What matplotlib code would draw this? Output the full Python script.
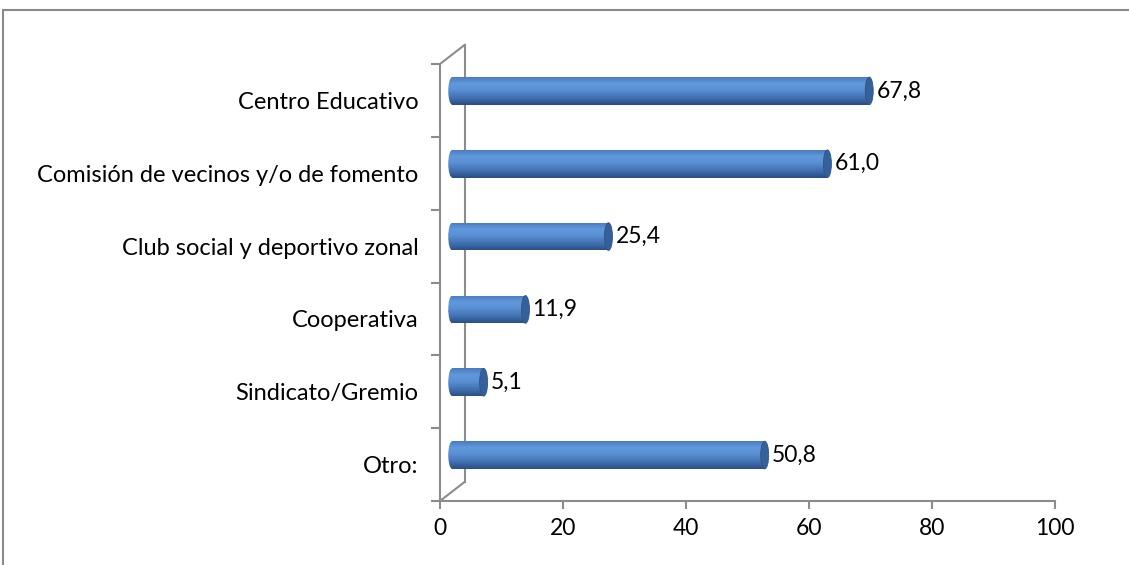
import matplotlib
matplotlib.use("Agg")
import matplotlib.pyplot as plt
import matplotlib.transforms as mtransforms
from matplotlib.lines import Line2D
from matplotlib.patches import Ellipse, Rectangle
from matplotlib.colors import LinearSegmentedColormap
import numpy as np


categories = ["Otro:", "Sindicato/Gremio", "Cooperativa",
              "Club social y deportivo zonal",
              "Comisión de vecinos y/o de fomento", "Centro Educativo"]
values = [50.8, 5.1, 11.9, 25.4, 61.0, 67.8]
labels = ["50,8", "5,1", "11,9", "25,4", "61,0", "67,8"]
xticks = [0, 20, 40, 60, 80, 100]

plt.rcParams['font.family'] = ['Lato', 'DejaVu Sans']

AXIS_COLOR = "#8c8c8c"
DEPTH_X, DEPTH_Y = 0.245, 0.19   # inches, 3d depth of the chart wall
BAR_H = 0.38
CAP_W = 1.3                       # width of the end ellipse, data units
N_STRIPES = 40

bar_cmap = LinearSegmentedColormap.from_list(
    "cyl", [(0.0, "#4a7cc0"), (0.22, "#6198dc"), (0.45, "#5a90d4"),
            (0.75, "#4170b0"), (1.0, "#2b4f86")])


def main():
    fig = plt.figure(figsize=(11.29, 5.65), dpi=100)
    fig.patches.append(Rectangle((3 / 1129, -0.05), 1.5, 1 - 10 / 565 + 0.05,
                                 transform=fig.transFigure, fill=False,
                                 edgecolor="#8a8a8a", linewidth=1.5))

    ax = fig.add_axes([440 / 1129, 1 - 501 / 565, 615 / 1129, 437 / 565])
    y0, y1 = -0.5, len(categories) - 0.5
    ax.set_xlim(0, 100)
    ax.set_ylim(y0, y1)
    ax.patch.set_visible(False)

    for side in ["top", "right"]:
        ax.spines[side].set_visible(False)
    for side in ["left", "bottom"]:
        ax.spines[side].set_color(AXIS_COLOR)
        ax.spines[side].set_linewidth(1.5)

    half = mtransforms.ScaledTranslation(DEPTH_X / 2, DEPTH_Y / 2, fig.dpi_scale_trans)
    full = mtransforms.ScaledTranslation(DEPTH_X, DEPTH_Y, fig.dpi_scale_trans)

    # back wall of the 3d frame, drawn on the figure below the axes so bars hide it
    fig.add_artist(Line2D([0, 0], [y0, y1], color=AXIS_COLOR, lw=1.5,
                          transform=ax.transData + full, zorder=-1))
    fig.canvas.draw()
    for yy in (y0, y1):
        p0 = ax.transData.transform((0, yy))
        p1 = (ax.transData + full).transform((0, yy))
        fig.add_artist(Line2D([p0[0], p1[0]], [p0[1], p1[1]], color=AXIS_COLOR,
                              lw=1.5, transform=mtransforms.IdentityTransform(),
                              zorder=-1))

    trans = ax.transData + half
    dh = BAR_H / N_STRIPES
    for i, (v, lab) in enumerate(zip(values, labels)):
        left = Ellipse((0, i), CAP_W, BAR_H, transform=trans, facecolor="none",
                       edgecolor="none")
        ax.add_patch(left)
        for k in range(N_STRIPES):
            yc = i + BAR_H / 2 - (k + 0.5) * dh
            col = bar_cmap(k / (N_STRIPES - 1))
            ax.barh(yc, v, height=dh * 1.05, left=0, color=col, linewidth=0,
                    transform=trans, zorder=2)
            bits = ax.barh(yc, CAP_W / 2, height=dh * 1.05, left=-CAP_W / 2, color=col,
                           linewidth=0, transform=trans, zorder=2)
            bits[0].set_clip_path(left)
        ax.add_patch(Ellipse((v, i), CAP_W, BAR_H, transform=trans,
                             facecolor="#36609a", edgecolor="#2e5488", lw=0.6, zorder=3))
        ax.text(v + CAP_W / 2 + 0.5, i, lab, transform=trans, va="center", ha="left",
                fontsize=16.5, color="black", zorder=4)

    ax.set_xlim(0, 100)
    ax.set_ylim(y0, y1)

    ax.set_xticks(xticks)
    ax.set_xticklabels([str(t) for t in xticks], fontsize=16.5)
    ax.set_yticks(np.arange(len(categories) + 1) - 0.5, minor=False)
    ax.set_yticklabels([])
    ax.set_yticks(np.arange(len(categories)), minor=True)
    ax.set_yticklabels(categories, minor=True, fontsize=17)
    ax.tick_params(axis="y", which="minor", length=0, pad=15.5)
    ax.tick_params(axis="y", which="major", length=6.5, width=1.5, color=AXIS_COLOR)
    ax.tick_params(axis="x", length=6, width=1.5, color=AXIS_COLOR, pad=6)

    fig.savefig("out.png", dpi=100)


if __name__ == "__main__":
    main()
